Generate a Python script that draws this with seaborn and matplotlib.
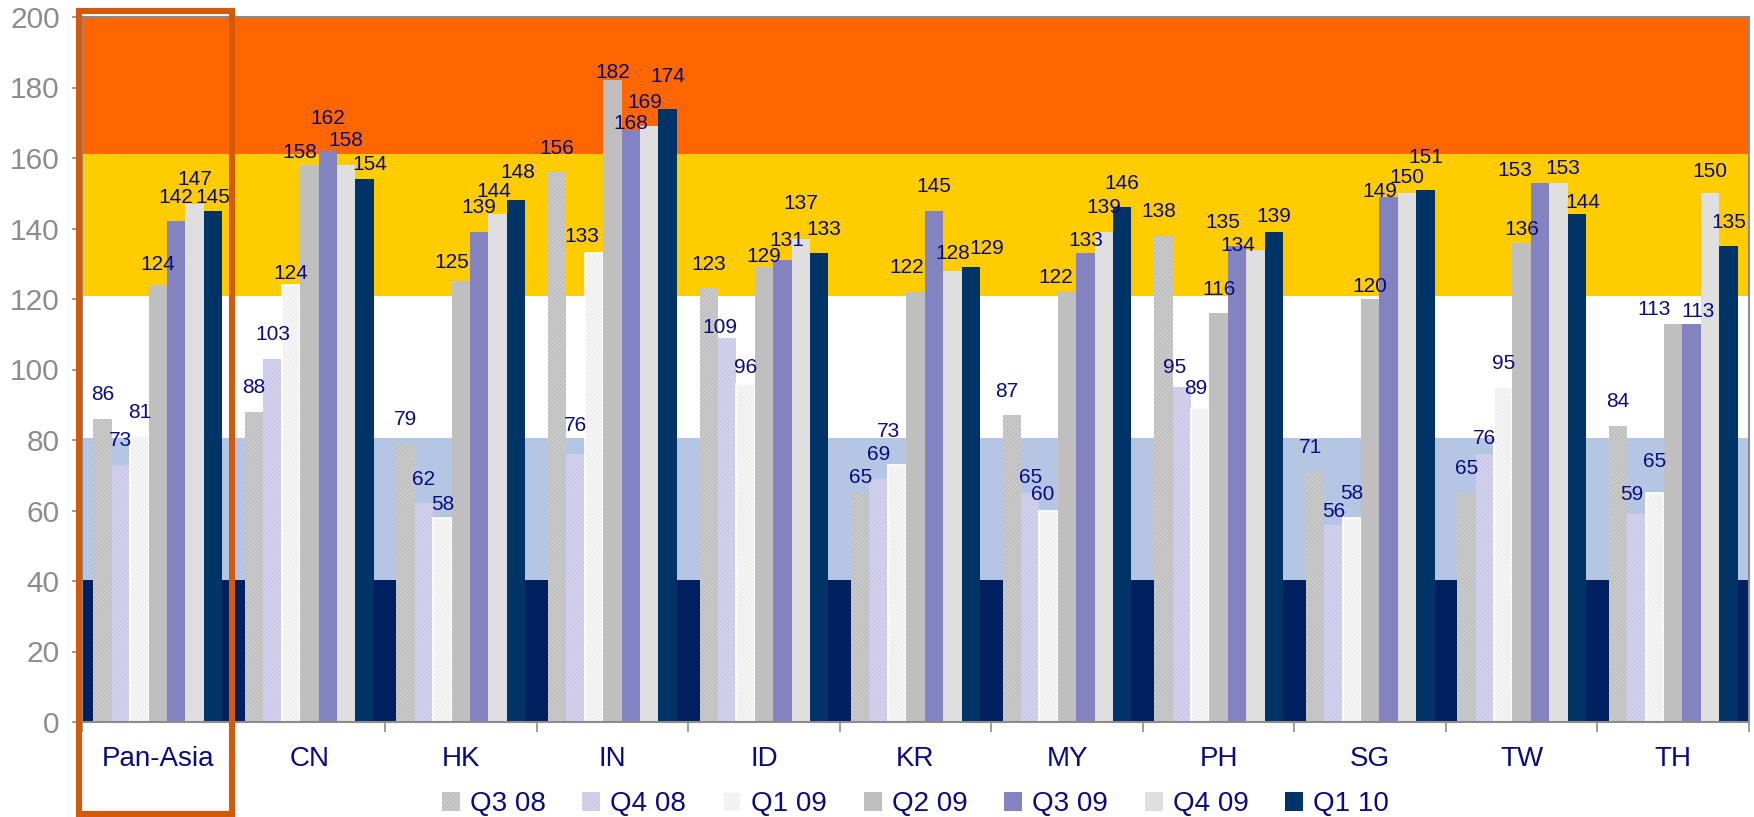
import numpy as np
import pandas as pd
import matplotlib
matplotlib.use("Agg")
import matplotlib.pyplot as plt
import matplotlib.transforms as mtransforms
from matplotlib.patches import Rectangle
import seaborn as sns

# ---- data -------------------------------------------------------------
markets = ["Pan-Asia", "CN", "HK", "IN", "ID", "KR", "MY", "PH", "SG", "TW", "TH"]
quarters = ["Q3 08", "Q4 08", "Q1 09", "Q2 09", "Q3 09", "Q4 09", "Q1 10"]

q3_08 = [86, 88, 79, 156, 123, 65, 87, 138, 71, 65, 84]
q4_08 = [73, 103, 62, 76, 109, 69, 65, 95, 56, 76, 59]
q1_09 = [81, 124, 58, 133, 96, 73, 60, 89, 58, 95, 65]
q2_09 = [124, 158, 125, 182, 129, 122, 122, 116, 120, 136, 113]
q3_09 = [142, 162, 139, 168, 131, 145, 133, 135, 149, 153, 113]
q4_09 = [147, 158, 144, 169, 137, 128, 139, 134, 150, 153, 150]
q1_10 = [145, 154, 148, 174, 133, 129, 146, 139, 151, 144, 135]

# sentiment zones drawn behind the bars
zone_edges = [0, 40.3, 80.6, 120.9, 161.2, 200]
zone_colors = ["#002060", "#B4C6E4", "#FFFFFF", "#FFCC00", "#FF6600"]

y_ticks = list(range(0, 201, 20))

# ---- styling ----------------------------------------------------------
NAVY_TEXT = "#0B0B7A"
GRAY = "#8C8C8C"

bar_face = {
    "Q3 08": "#CBCBCB",
    "Q4 08": "#D4D4EE",
    "Q1 09": "#EEEEEE",
    "Q2 09": "#BFBFBF",
    "Q3 09": "#8383C1",
    "Q4 09": "#DFDFDF",
    "Q1 10": "#003366",
}
# (hatch pattern, hatch colour, outline width)
bar_texture = {
    "Q3 08": ("////////", "#B4B4B4", 0.0),
    "Q4 08": ("////////", "#BFBFE3", 0.0),
    "Q1 09": ("////////", "#FFFFFF", 1.2),
}

# value-label nudges (points) where neighbouring labels would collide
LABEL_PAD = 10.5
label_nudge = {
    ("Pan-Asia", "Q2 09"): (0, -3), ("Pan-Asia", "Q1 10"): (0, -8),
    ("CN", "Q1 09"): (0, -9), ("CN", "Q2 09"): (-6.5, -8),
    ("CN", "Q3 09"): (0, 6), ("CN", "Q1 10"): (4, -6.5),
    ("HK", "Q1 09"): (0, -8), ("HK", "Q2 09"): (-6.5, -3.5),
    ("HK", "Q4 09"): (-3, -1), ("HK", "Q1 10"): (1.5, 3),
    ("IN", "Q4 08"): (0, 3.5), ("IN", "Q1 09"): (-8.5, -5),
    ("IN", "Q2 09"): (0, -11.5), ("IN", "Q3 09"): (0, -13),
    ("IN", "Q4 09"): (-3, 0), ("IN", "Q1 10"): (0, 6),
    ("ID", "Q4 08"): (-5, -10), ("ID", "Q1 09"): (0, -6),
    ("ID", "Q2 09"): (0, -9.5), ("ID", "Q3 09"): (3, -3),
    ("ID", "Q4 09"): (0, 8), ("ID", "Q1 10"): (3, 0),
    ("KR", "Q3 08"): (0, -6.5), ("KR", "Q1 09"): (-6, 6.5),
    ("KR", "Q2 09"): (-6, 0), ("KR", "Q4 09"): (0, -5),
    ("KR", "Q1 10"): (11.5, -3.5),
    ("MY", "Q3 08"): (-3.5, 0), ("MY", "Q4 08"): (0, -6.5),
    ("MY", "Q1 09"): (-4, -6), ("MY", "Q2 09"): (-8, -7),
    ("MY", "Q3 09"): (0, -8),
    ("PH", "Q3 08"): (-3.5, 0), ("PH", "Q4 08"): (-5, -3.5),
    ("PH", "Q1 09"): (-3, -3), ("PH", "Q3 09"): (-10, 0),
    ("PH", "Q4 09"): (-13, -14.5), ("PH", "Q1 10"): (0, -6),
    ("SG", "Q3 08"): (-3.5, 0), ("SG", "Q4 08"): (0, -8),
    ("SG", "Q2 09"): (0, -8.5), ("SG", "Q3 09"): (-6, -13.5),
    ("SG", "Q4 09"): (0, -6), ("SG", "Q1 10"): (0, 6),
    ("TW", "Q4 08"): (0, -6), ("TW", "Q2 09"): (0, -8),
    ("TW", "Q3 09"): (-18, -8.5), ("TW", "Q4 09"): (3, -7),
    ("TW", "Q1 10"): (4.5, -8.5),
    ("TH", "Q4 08"): (-3.5, -3.5), ("TH", "Q1 09"): (0, 5),
    ("TH", "Q2 09"): (-14, -7), ("TH", "Q3 09"): (4.5, -8.5),
    ("TH", "Q4 09"): (0, -2),
}

sns.set_theme(style="white")
plt.rcParams["font.family"] = ["Liberation Sans", "DejaVu Sans"]
plt.rcParams["hatch.linewidth"] = 0.55

fig = plt.figure(figsize=(17.54, 8.17), dpi=100)
ax = fig.add_axes([82 / 1754, 95 / 817, 1667 / 1754, 705 / 817])

for lo, hi, c in zip(zone_edges[:-1], zone_edges[1:], zone_colors):
    ax.axhspan(lo, hi, color=c, lw=0, zorder=0)

series = [q3_08, q4_08, q1_09, q2_09, q3_09, q4_09, q1_10]
wide = pd.DataFrame(dict(zip(quarters, series)), index=markets)
wide.index.name = "market"
long = wide.reset_index().melt(id_vars="market", var_name="quarter", value_name="value")

sns.barplot(
    data=long, x="market", y="value", hue="quarter",
    order=markets, hue_order=quarters,
    palette=bar_face, saturation=1, width=0.85,
    errorbar=None, legend=False, ax=ax, zorder=2,
)

for container, q in zip(ax.containers, quarters):
    if q in bar_texture:
        hatch, hcol, lw = bar_texture[q]
        for bar in container:
            bar.set_hatch(hatch)
            bar.set_edgecolor(hcol)
            bar.set_linewidth(lw)
    else:
        for bar in container:
            bar.set_linewidth(0)

for container, q, vals in zip(ax.containers, quarters, series):
    texts = ax.bar_label(container, labels=[str(v) for v in vals],
                         padding=LABEL_PAD, color=NAVY_TEXT, fontsize=15,
                         zorder=5)
    for t, m in zip(texts, markets):
        dx, dy = label_nudge.get((m, q), (0, 0))
        t.xyann = (dx, LABEL_PAD + dy)

# ---- axes -------------------------------------------------------------
ax.set_xlim(-0.5, len(markets) - 0.5)
ax.set_ylim(0, 200)
ax.set_yticks(y_ticks)
ax.set_yticklabels([str(t) for t in y_ticks])
ax.set_xticks(range(len(markets)))
ax.set_xticklabels(markets)
ax.set_xticks(np.arange(-0.5, len(markets), 1.0), minor=True)
ax.set_xlabel("")
ax.set_ylabel("")

ax.tick_params(axis="y", which="major", length=7, width=1.2, color=GRAY,
               labelcolor=GRAY, labelsize=21.5, pad=9, left=True)
ax.tick_params(axis="x", which="major", length=0, labelcolor=NAVY_TEXT,
               labelsize=20, pad=17.5)
ax.tick_params(axis="x", which="minor", length=7, width=1.2, color=GRAY,
               bottom=True)

for side in ["left", "right", "top", "bottom"]:
    ax.spines[side].set_visible(True)
    ax.spines[side].set_color(GRAY)
    ax.spines[side].set_linewidth(1.5)
    ax.spines[side].set_zorder(6)

ax.legend(
    ax.containers, quarters, loc="center", bbox_to_anchor=(0.5, -0.117),
    ncol=7, frameon=False, fontsize=20, labelcolor=NAVY_TEXT,
    handlelength=0.65, handleheight=0.65, handletextpad=0.36,
    columnspacing=1.32, borderaxespad=0,
)

# highlight box around the regional aggregate
trans = mtransforms.blended_transform_factory(ax.transData, ax.transAxes)
ax.add_patch(Rectangle((-0.523, -0.13), 1.01, 1.138, transform=trans,
                       fill=False, edgecolor="#D45A0A", lw=4.4,
                       clip_on=False, zorder=10))

fig.savefig("out.png", dpi=100)
